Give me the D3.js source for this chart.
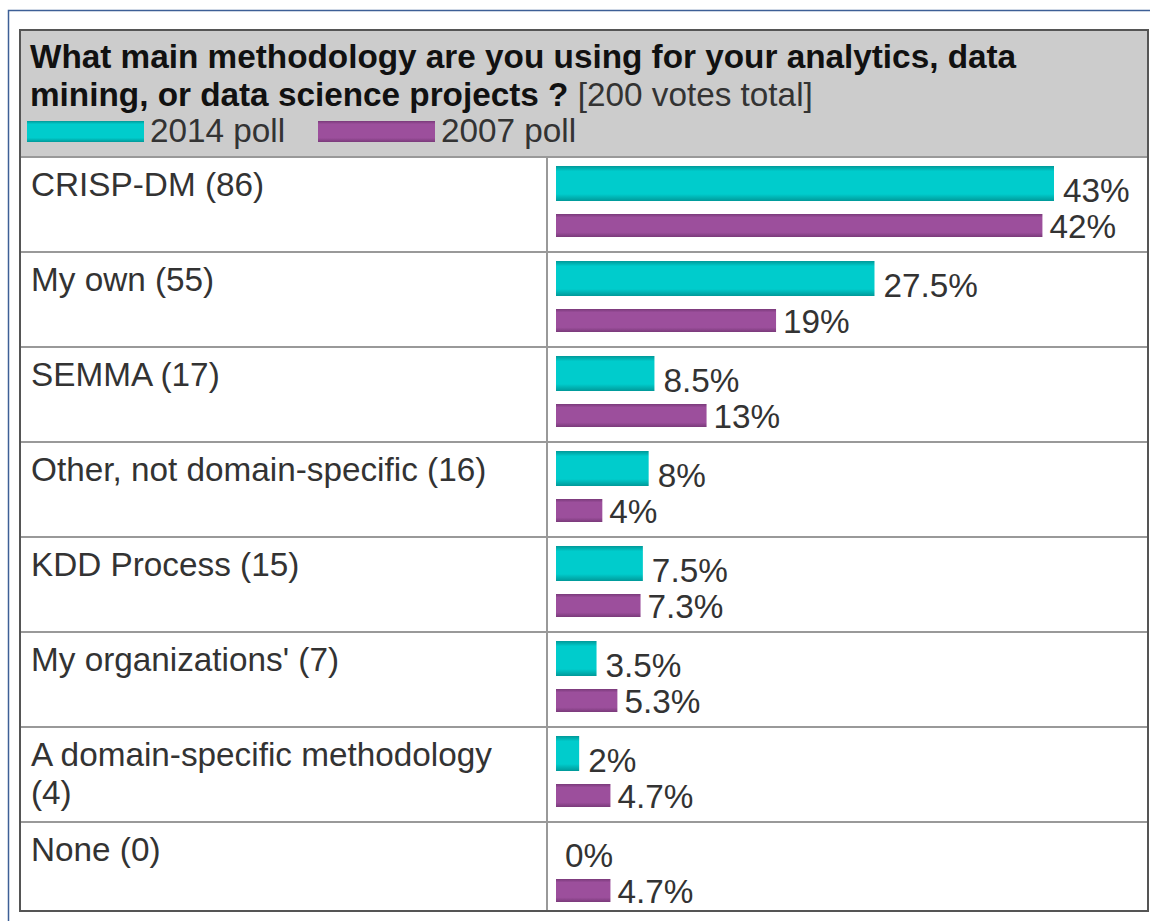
<!DOCTYPE html>
<html>
<head>
<meta charset="utf-8">
<script src="https://cdn.jsdelivr.net/npm/d3@7"></script>
<style>
  body { margin: 0; background: #fff; }
  text { font-family: "Liberation Sans", Arial, sans-serif; }
</style>
</head>
<body>
<script>
var categories = ["CRISP-DM (86)", "My own (55)", "SEMMA (17)", "Other, not domain-specific (16)",
  "KDD Process (15)", "My organizations' (7)", "A domain-specific methodology (4)", "None (0)"];
var poll2014 = [43, 27.5, 8.5, 8, 7.5, 3.5, 2, 0];
var poll2007 = [42, 19, 13, 4, 7.3, 5.3, 4.7, 4.7];
var seriesNames = ["2014 poll", "2007 poll"];
var titleLines = ["What main methodology are you using for your analytics, data",
  "mining, or data science projects ?"];
var titleNote = "[200 votes total]";

var width = 1150, height = 921;
var tableLeft = 20, tableRight = 1148, tableTop = 30, tableBottom = 911;
var headerBottom = 157, colDivider = 547;
var rowH = 95;
var fontSize = 33.3;

var svg = d3.select('body')
  .append('svg')
  .attr('width', width)
  .attr('height', height);

var defs = svg.append('defs');
function addGradient(id, edge, mid) {
  var g = defs.append('linearGradient')
    .attr('id', id)
    .attr('x1', 0).attr('y1', 0).attr('x2', 0).attr('y2', 1);
  g.append('stop').attr('offset', '0%').attr('stop-color', edge);
  g.append('stop').attr('offset', '15%').attr('stop-color', mid);
  g.append('stop').attr('offset', '80%').attr('stop-color', mid);
  g.append('stop').attr('offset', '100%').attr('stop-color', edge);
}
addGradient('cyanGrad', '#009999', '#00cccc');
addGradient('purpleGrad', '#7a3a7a', '#9c4f9c');

// outer blue frame
svg.append('path')
  .attr('d', 'M8.5,921 V10.5 H1150')
  .attr('fill', 'none')
  .attr('stroke', '#3d5f96')
  .attr('stroke-width', 1.5);

// header background
svg.append('rect')
  .attr('x', tableLeft).attr('y', tableTop)
  .attr('width', tableRight - tableLeft).attr('height', headerBottom - tableTop)
  .attr('fill', '#cccccc');

// title
var title = svg.append('g');
titleLines.forEach(function(line, i) {
  var t = title.append('text')
    .attr('x', 30)
    .attr('y', 68 + i * 38)
    .attr('font-size', fontSize)
    .attr('font-weight', 'bold')
    .attr('fill', '#111')
    .text(line);
  if (i == titleLines.length - 1) {
    t.append('tspan')
      .attr('font-weight', 'normal')
      .attr('fill', '#333')
      .text(' ' + titleNote);
  }
});

// legend
var legendX = [27, 318];
seriesNames.forEach(function(name, i) {
  svg.append('rect')
    .attr('x', legendX[i]).attr('y', 121)
    .attr('width', 117).attr('height', 21)
    .attr('fill', i == 0 ? 'url(#cyanGrad)' : 'url(#purpleGrad)');
  svg.append('text')
    .attr('x', legendX[i] + 123).attr('y', 142)
    .attr('font-size', fontSize)
    .attr('fill', '#333')
    .text(name);
});

var x = d3.scaleLinear()
  .domain([0, 43])
  .range([556, 1054]);

var rowTop = function(i) { return headerBottom + i * rowH; };

// row separators
var grid = svg.append('g').attr('stroke', '#999').attr('stroke-width', 2);
d3.range(0, categories.length).forEach(function(i) {
  grid.append('line')
    .attr('x1', tableLeft).attr('x2', tableRight)
    .attr('y1', rowTop(i)).attr('y2', rowTop(i));
});
grid.append('line')
  .attr('x1', colDivider).attr('x2', colDivider)
  .attr('y1', headerBottom).attr('y2', tableBottom);

// outer table border
svg.append('rect')
  .attr('x', tableLeft).attr('y', tableTop)
  .attr('width', tableRight - tableLeft).attr('height', tableBottom - tableTop)
  .attr('fill', 'none')
  .attr('stroke', '#555')
  .attr('stroke-width', 2);

// category labels, wrapped to the column width
var labels = svg.selectAll('text.cat')
  .data(categories)
  .enter()
  .append('text')
  .classed('cat', true)
  .attr('x', 31)
  .attr('y', function(d, i) { return rowTop(i) + 39; })
  .attr('font-size', fontSize)
  .attr('fill', '#333');

labels.each(function(d, i) {
  var el = d3.select(this);
  var words = d.split(' ');
  var line = [];
  var tspan = el.append('tspan').attr('x', 31).attr('dy', 0);
  words.forEach(function(w) {
    line.push(w);
    tspan.text(line.join(' '));
    if (tspan.node().getComputedTextLength() > 500 && line.length > 1) {
      line.pop();
      tspan.text(line.join(' '));
      line = [w];
      tspan = el.append('tspan').attr('x', 31).attr('dy', 38).text(w);
    }
  });
});

// bars
svg.selectAll('rect.b2014')
  .data(poll2014)
  .enter()
  .append('rect')
  .classed('b2014', true)
  .attr('x', x(0))
  .attr('y', function(d, i) { return rowTop(i) + 9; })
  .attr('width', function(d) { return x(d) - x(0); })
  .attr('height', 35)
  .attr('fill', 'url(#cyanGrad)');

svg.selectAll('rect.b2007')
  .data(poll2007)
  .enter()
  .append('rect')
  .classed('b2007', true)
  .attr('x', x(0))
  .attr('y', function(d, i) { return rowTop(i) + 57; })
  .attr('width', function(d) { return x(d) - x(0); })
  .attr('height', 23)
  .attr('fill', 'url(#purpleGrad)');

// value labels
svg.selectAll('text.v2014')
  .data(poll2014)
  .enter()
  .append('text')
  .classed('v2014', true)
  .attr('x', function(d) { return x(d) + 9; })
  .attr('y', function(d, i) { return rowTop(i) + 45; })
  .attr('font-size', fontSize)
  .attr('fill', '#333')
  .text(function(d) { return d + '%'; });

svg.selectAll('text.v2007')
  .data(poll2007)
  .enter()
  .append('text')
  .classed('v2007', true)
  .attr('x', function(d) { return x(d) + 7; })
  .attr('y', function(d, i) { return rowTop(i) + 81; })
  .attr('font-size', fontSize)
  .attr('fill', '#333')
  .text(function(d) { return d + '%'; });
</script>
</body>
</html>
